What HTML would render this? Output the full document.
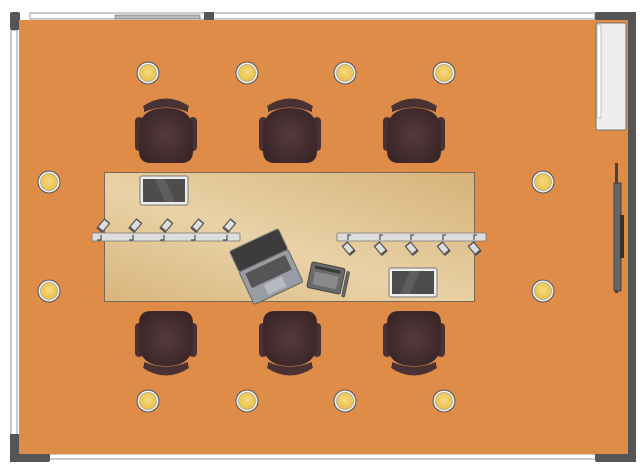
<!DOCTYPE html>
<html><head><meta charset="utf-8"><style>
html,body{margin:0;padding:0;background:#fff;width:640px;height:473px;overflow:hidden}
svg{display:block}
</style></head><body>
<svg width="640" height="473" viewBox="0 0 640 473" xmlns="http://www.w3.org/2000/svg">
<defs>
<radialGradient id="seat" cx="50%" cy="50%" r="60%"><stop offset="0" stop-color="#553a3c"/><stop offset="1" stop-color="#3a2527"/></radialGradient>
<linearGradient id="tbl" x1="0" y1="1" x2="1" y2="0"><stop offset="0" stop-color="#d8b57c"/><stop offset="0.45" stop-color="#e9d2a6"/><stop offset="1" stop-color="#d6b279"/></linearGradient>
<radialGradient id="lamp" cx="50%" cy="45%" r="55%"><stop offset="0" stop-color="#f7dc85"/><stop offset="1" stop-color="#e9bf45"/></radialGradient>
<g id="chair">
<path d="M-23,-57 Q0,-72 23,-57 L22,-54 Q0,-64 -22,-54 Z" fill="#4a3234"/>
<path d="M-22,-57 Q0,-70 22,-57 L22,-51 Q0,-60 -22,-51 Z" fill="#4a3234"/>
<rect x="-31" y="-46" width="8" height="34" rx="4" fill="#4a3234"/>
<rect x="23" y="-46" width="8" height="34" rx="4" fill="#4a3234"/>
<path d="M-27,-32 Q-27,-55 0,-55 Q27,-55 27,-32 L27,-12 Q27,0 15,0 L-15,0 Q-27,0 -27,-12 Z" fill="url(#seat)"/>
</g>
<g id="lt"><circle r="11" fill="#eee" stroke="#555" stroke-width="1"/><circle r="8.5" fill="url(#lamp)" stroke="#888" stroke-width="0.5"/></g>
<g id="spot"><rect x="-4" y="-7" width="8" height="13" rx="1" fill="#555"/><rect x="-2.8" y="-5.5" width="5.6" height="9" fill="#ddd"/></g>
</defs>
<!-- walls -->
<rect x="30" y="13" width="565" height="6" fill="#fff" stroke="#999" stroke-width="1"/>
<rect x="11" y="30" width="6" height="410" fill="#fff" stroke="#999" stroke-width="1"/>
<rect x="45" y="454" width="555" height="5" fill="#fff" stroke="#999" stroke-width="1"/>
<rect x="115" y="15" width="85" height="4" fill="#bbb" stroke="#666" stroke-width="0.6"/>
<rect x="10" y="12" width="10" height="18" rx="2" fill="#555"/>
<rect x="10" y="434" width="10" height="28" fill="#555"/>
<rect x="10" y="453" width="40" height="9" rx="2" fill="#555"/>
<rect x="595" y="12" width="41" height="9" rx="2" fill="#555"/>
<rect x="628" y="12" width="8" height="450" fill="#555"/>
<rect x="595" y="453" width="41" height="9" rx="2" fill="#555"/>
<rect x="204" y="12" width="10" height="9" fill="#555"/>
<!-- floor -->
<rect x="19" y="20" width="609" height="434" fill="#df8c48"/>
<!-- cabinet top right -->
<rect x="596" y="23" width="30" height="107" rx="2" fill="#eee" stroke="#777" stroke-width="1"/>
<rect x="597" y="25" width="4" height="93" fill="#fff" stroke="#888" stroke-width="0.5"/>
<!-- screen -->
<rect x="615" y="163" width="3" height="130" fill="#444"/>
<rect x="614" y="183" width="7" height="108" fill="#666" stroke="#333" stroke-width="0.8"/>
<rect x="620" y="215" width="4" height="43" fill="#333"/>
<!-- lights -->
<use href="#lt" x="148" y="73"/><use href="#lt" x="247" y="73"/><use href="#lt" x="345" y="73"/><use href="#lt" x="444" y="73"/>
<use href="#lt" x="148" y="401"/><use href="#lt" x="247" y="401"/><use href="#lt" x="345" y="401"/><use href="#lt" x="444" y="401"/>
<use href="#lt" x="49" y="182"/><use href="#lt" x="49" y="291"/><use href="#lt" x="543" y="182"/><use href="#lt" x="543" y="291"/>
<!-- chairs -->
<use href="#chair" x="166" y="163"/><use href="#chair" x="290" y="163"/><use href="#chair" x="414" y="163"/>
<use href="#chair" transform="translate(166,311) scale(1,-1)"/><use href="#chair" transform="translate(290,311) scale(1,-1)"/><use href="#chair" transform="translate(414,311) scale(1,-1)"/>
<!-- table -->
<rect x="104.5" y="172.5" width="370" height="129" fill="url(#tbl)" stroke="#7a6a55" stroke-width="1"/>
<!-- tablets -->
<rect x="140" y="176" width="48" height="29" rx="2" fill="#eee" stroke="#777"/>
<rect x="143" y="179" width="42" height="23" fill="#4d4d4d"/>
<polygon points="155,179 165,179 175,202 165,202" fill="#5e5e5e"/>
<rect x="389" y="268" width="48" height="29" rx="2" fill="#eee" stroke="#777"/>
<rect x="392" y="271" width="42" height="23" fill="#4d4d4d"/>
<polygon points="410,271 420,271 410,294 400,294" fill="#5e5e5e"/>
<!-- track lights -->
<rect x="92" y="233" width="148" height="8" rx="1" fill="#ddd" stroke="#777" stroke-width="0.8"/>
<g fill="none" stroke="#333" stroke-width="1"><path d="M101,235v5h-4M133,235v5h-4M164,235v5h-4M195,235v5h-4M227,235v5h-4"/></g>
<use href="#spot" transform="translate(103,226) rotate(40)"/><use href="#spot" transform="translate(135,226) rotate(40)"/><use href="#spot" transform="translate(166,226) rotate(40)"/><use href="#spot" transform="translate(197,226) rotate(40)"/><use href="#spot" transform="translate(229,226) rotate(40)"/>
<rect x="337" y="233" width="149" height="8" rx="1" fill="#ddd" stroke="#777" stroke-width="0.8"/>
<g fill="none" stroke="#333" stroke-width="1"><path d="M348,240v-5h3M380,240v-5h3M411,240v-5h3M443,240v-5h3M474,240v-5h3"/></g>
<use href="#spot" transform="translate(349,249) rotate(-40)"/><use href="#spot" transform="translate(381,249) rotate(-40)"/><use href="#spot" transform="translate(412,249) rotate(-40)"/><use href="#spot" transform="translate(444,249) rotate(-40)"/><use href="#spot" transform="translate(475,249) rotate(-40)"/>
<!-- laptop -->
<g transform="translate(263,262) rotate(-25)">
<rect x="-26" y="-24" width="54" height="23" rx="2" fill="#3c3c3c" stroke="#888" stroke-width="1"/>
<rect x="-26" y="-1" width="54" height="36" rx="2" fill="#9a9ca4" stroke="#666" stroke-width="1"/>
<rect x="-21" y="3" width="44" height="16" fill="#555"/>
<rect x="-9" y="21" width="20" height="11" fill="#b8bac2"/>
</g>
<!-- tablet with keyboard -->
<g transform="translate(326,278) rotate(12)">
<rect x="-17" y="-13" width="34" height="26" rx="2" fill="#6a6a6a" stroke="#444"/>
<rect x="-13" y="-10" width="26" height="3" fill="#3a3a3a"/>
<rect x="-12" y="-4" width="24" height="13" fill="#999" opacity="0.7"/>
<rect x="19" y="-11" width="3" height="26" rx="1.5" fill="#666" stroke="#444" stroke-width="0.6"/>
</g>
</svg>
</body></html>
